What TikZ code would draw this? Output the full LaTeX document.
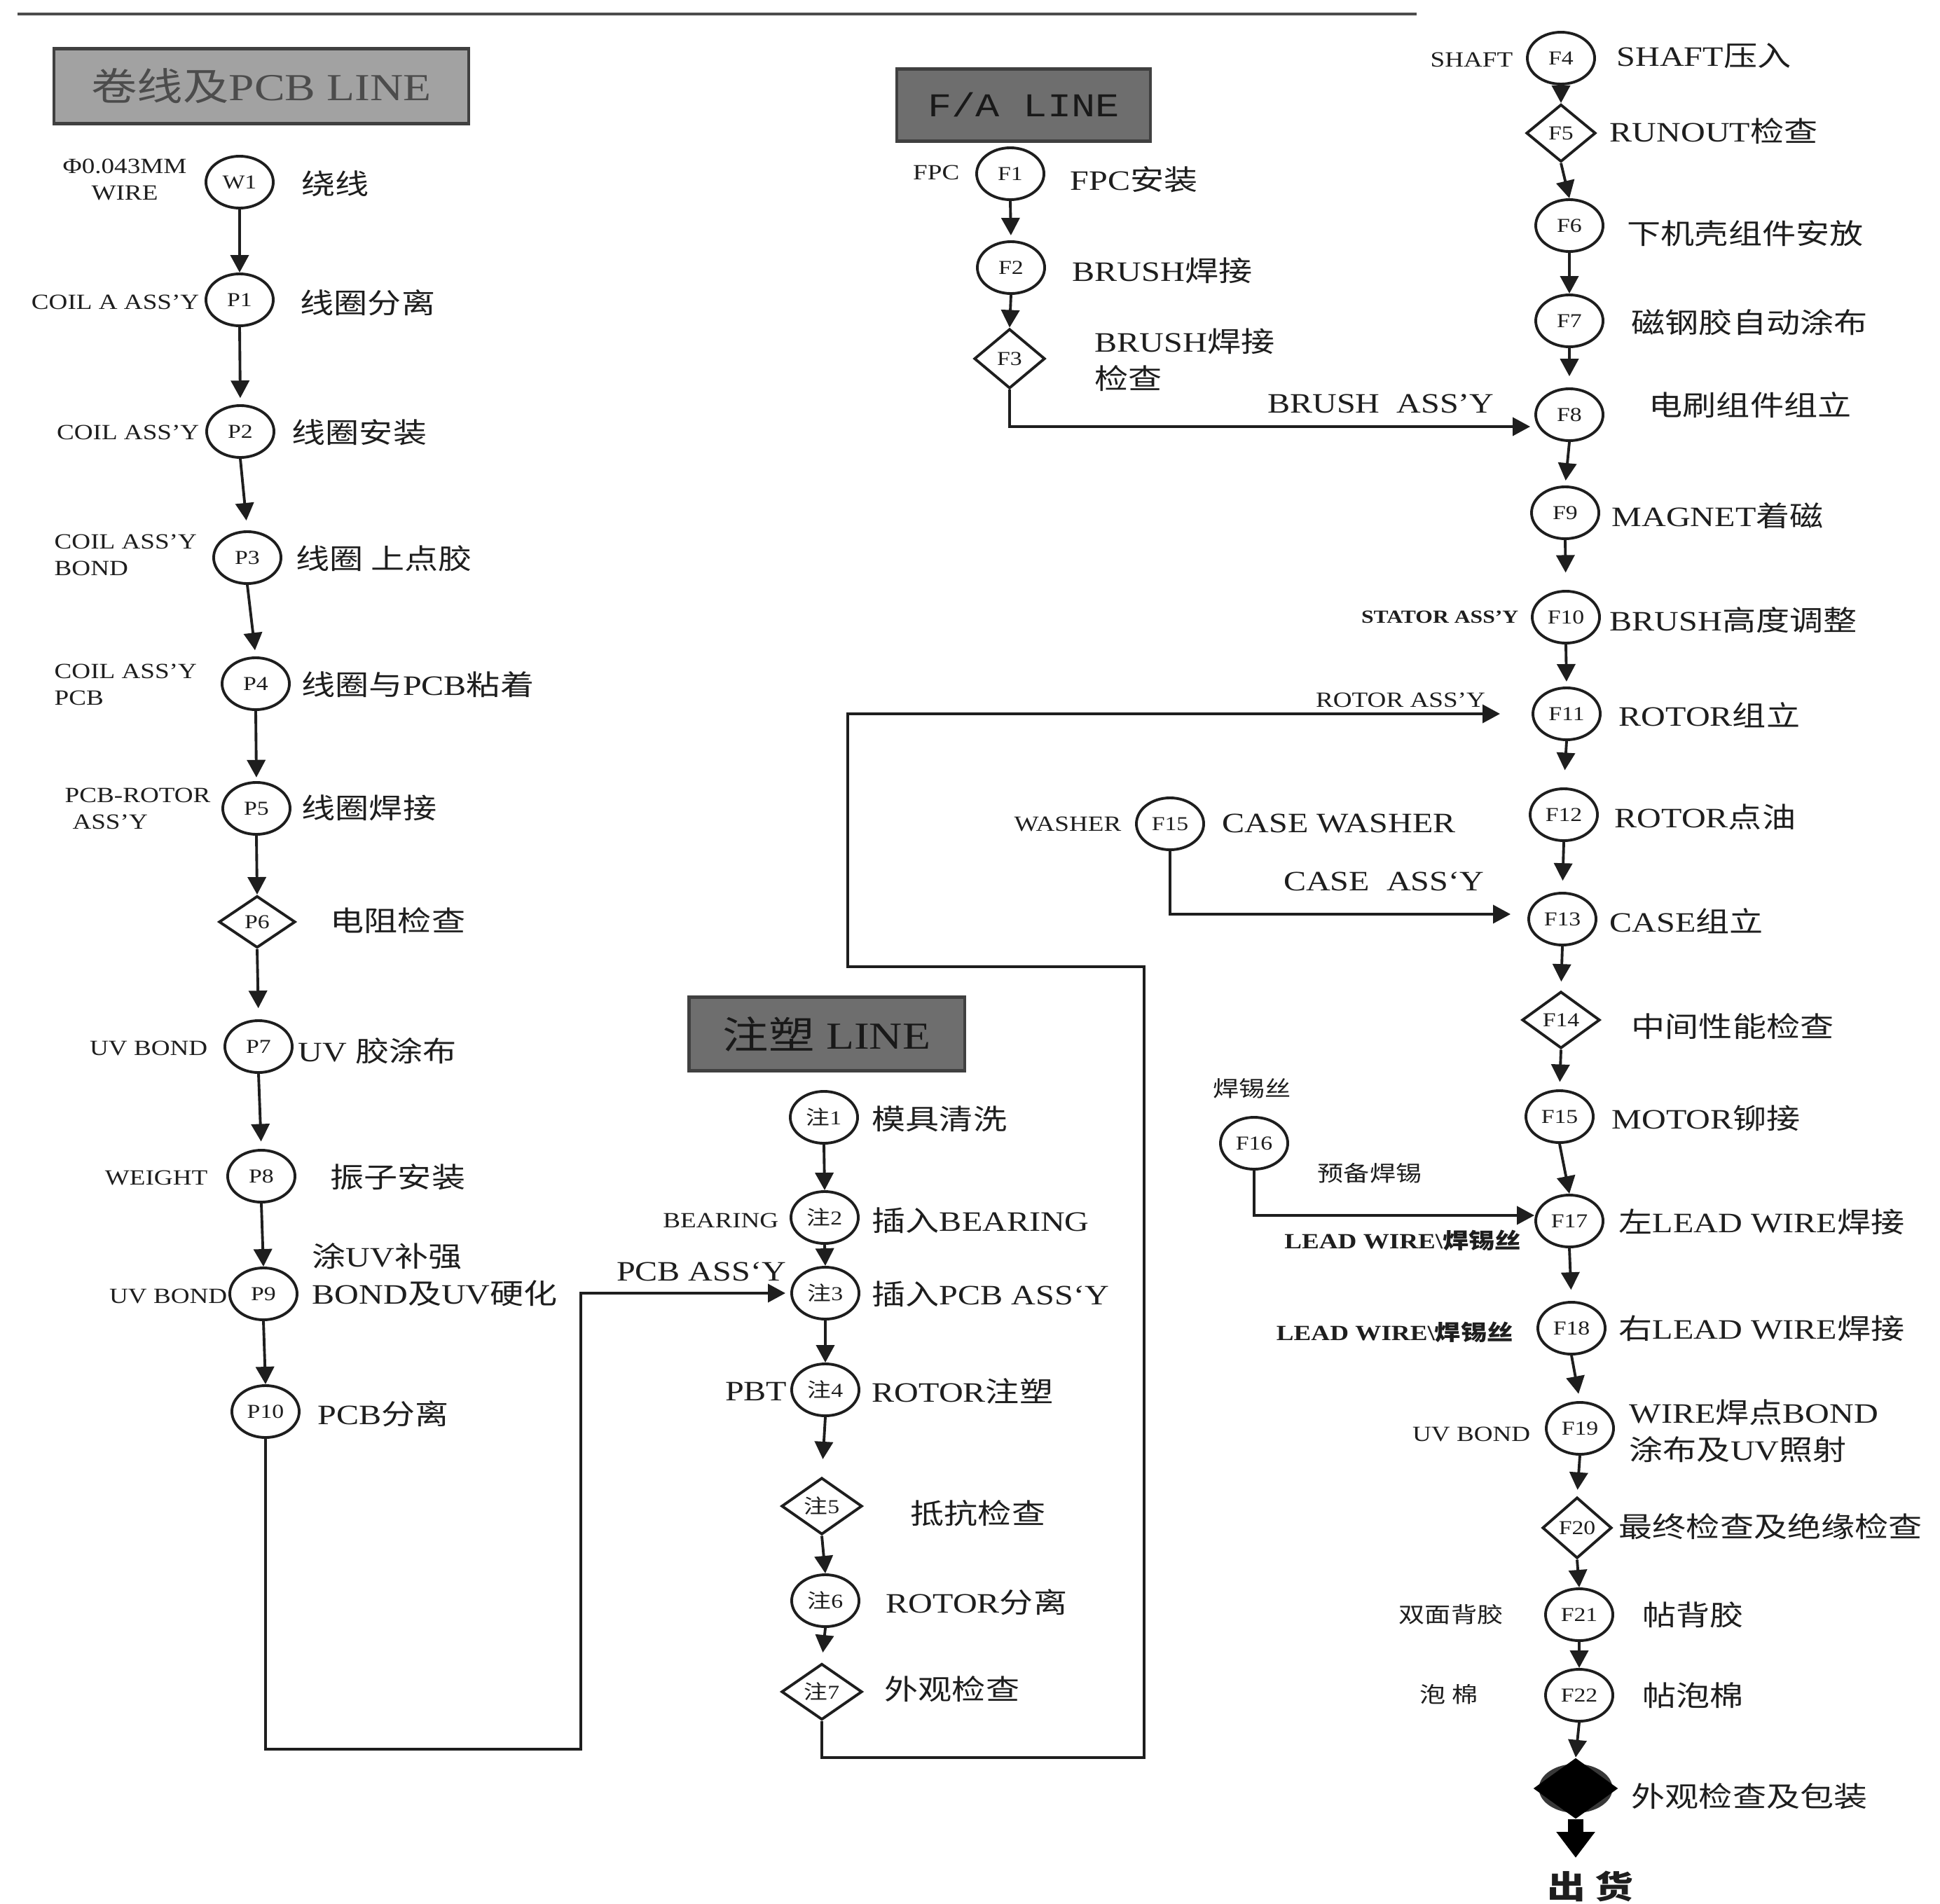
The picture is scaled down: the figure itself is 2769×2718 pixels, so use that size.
\documentclass[tikz,border=0pt]{standalone}
\usepackage{fontspec}
\setmainfont{Liberation Serif}[FakeStretch=1.2]
\newfontfamily\cjk{Noto Sans CJK SC}[FakeStretch=1.2]
\newfontfamily\monof{Liberation Mono}[FakeStretch=1.2]
\usetikzlibrary{shapes.geometric,arrows.meta,calc}
\newcommand\zh[1]{{\cjk #1}}
\newcommand\fmain{\fontsize{11.4}{15}\selectfont}
\newcommand\fsmall{\fontsize{8.8}{10.8}\selectfont}
\newcommand\ftiny{\fontsize{7.5}{9}\selectfont\bfseries}
\newcommand\fid{\fontsize{8}{9}\selectfont}
\newcommand\fhead{\fontsize{15.5}{18}\selectfont}
\definecolor{ink}{HTML}{1E1E1E}
\definecolor{hdrA}{HTML}{A2A2A2}
\definecolor{hdrB}{HTML}{6E6E6E}
\begin{document}
\begin{tikzpicture}[x=0.01cm,y=-0.01cm,
  proc/.style={ellipse,draw=ink,line width=1.1pt,minimum width=0.96cm,minimum height=0.74cm,inner sep=0pt,font=\fid,text=ink},
  chk/.style={diamond,draw=ink,line width=1.1pt,minimum width=1.06cm,minimum height=0.82cm,inner sep=0pt,label={[font=\fid,text=ink,inner sep=0pt]center:#1}},
  flow/.style={draw=ink,line width=1.1pt,-{Triangle[width=0.26cm,length=0.25cm]}},
  lab/.style={font=\fmain,text=ink,inner sep=0pt},
  sub/.style={font=\fsmall,text=ink,inner sep=0pt},
  tin/.style={font=\ftiny,text=ink,inner sep=0pt},
  hdr/.style={draw=black!75,line width=1.2pt,inner sep=0pt,font=\fhead}
]
\fill[white] (0,0) rectangle (2769,2718);
\path[use as bounding box] (0,0) rectangle (2769,2718);
\draw[black!70,line width=1pt] (25,20) -- (2022,20);

% headers
\node[hdr,fill=hdrA,minimum width=5.92cm,minimum height=1.07cm,text=black!70] (H1) at (373,123) {\zh{卷线及}PCB LINE};
\node[hdr,fill=hdrB,minimum width=3.62cm,minimum height=1.03cm,text=black!90,font={\monof\fontsize{13.5}{16}\selectfont}] (H2) at (1461,150) {F/A LINE};
\node[hdr,fill=hdrB,minimum width=3.93cm,minimum height=1.05cm,text=black!90] (H3) at (1180,1476) {\zh{注塑} LINE};

% ---------- left column ----------
\node[proc] (W1) at (342,260) {W1};
\node[proc] (P1) at (342,428) {P1};
\node[proc] (P2) at (343,616) {P2};
\node[proc] (P3) at (353,796) {P3};
\node[proc] (P4) at (365,976) {P4};
\node[proc] (P5) at (366,1154) {P5};
\node[chk=P6,minimum width=1.09cm,minimum height=0.74cm] (P6) at (367,1316) {};
\node[proc] (P7) at (369,1494) {P7};
\node[proc] (P8) at (373,1679) {P8};
\node[proc] (P9) at (376,1847) {P9};
\node[proc] (P10) at (379,2015) {P10};

\node[sub,align=center] (tW1) at (178,256) {Φ0.043MM\\WIRE};
\node[lab,anchor=west] (dW1) at (430,262) {\zh{绕线}};
\node[sub,anchor=east] (tP1) at (285,431) {COIL A ASS’Y};
\node[lab,anchor=west] (dP1) at (428,432) {\zh{线圈分离}};
\node[sub,anchor=east] (tP2) at (285,617) {COIL ASS’Y};
\node[lab,anchor=west] (dP2) at (416,617) {\zh{线圈安装}};
\node[sub,anchor=west,align=left] (tP3) at (77,792) {COIL ASS’Y\\BOND};
\node[lab,anchor=west] (dP3) at (422,797) {\zh{线圈 上点胶}};
\node[sub,anchor=west,align=left] (tP4) at (77,977) {COIL ASS’Y\\PCB};
\node[lab,anchor=west] (dP4) at (430,977) {\zh{线圈与}PCB\zh{粘着}};
\node[sub,anchor=west,align=left] (tP5) at (92,1154) {PCB-ROTOR\\\hspace*{0.35em}ASS’Y};
\node[lab,anchor=west] (dP5) at (430,1153) {\zh{线圈焊接}};
\node[lab,anchor=west] (dP6) at (471,1314) {\zh{电阻检查}};
\node[sub,anchor=east] (tP7) at (297,1496) {UV BOND};
\node[lab,anchor=west] (dP7) at (425,1500) {UV \zh{胶涂布}};
\node[sub,anchor=east] (tP8) at (297,1681) {WEIGHT};
\node[lab,anchor=west] (dP8) at (471,1680) {\zh{振子安装}};
\node[sub,anchor=east] (tP9) at (325,1850) {UV BOND};
\node[lab,anchor=west,align=left] (dP9) at (445,1820) {\zh{涂}UV\zh{补强}\\BOND\zh{及}UV\zh{硬化}};
\node[lab,anchor=west] (dP10) at (453,2018) {PCB\zh{分离}};

\draw[flow] (W1.south) -- (P1.north);
\draw[flow,shorten >=2.5pt] (P1.south) -- (P2.north);
\draw[flow,shorten >=4pt] (P2.south) -- (P3.north);
\draw[flow,shorten >=2.5pt] (P3.south) -- (P4.north);
\draw[flow,shorten >=1.5pt] (P4.south) -- (P5.north);
\draw[flow] (P5.south) -- (P6.north);
\draw[flow,shorten >=4.5pt] (P6.south) -- (P7.north);
\draw[flow,shorten >=3pt] (P7.south) -- (P8.north);
\draw[flow] (P8.south) -- (P9.north);
\draw[flow] (P9.south) -- (P10.north);

% ---------- F/A line top ----------
\node[proc] (F1) at (1442,248) {F1};
\node[proc] (F2) at (1443,382) {F2};
\node[chk=F3,minimum width=1.01cm,minimum height=0.85cm] (F3) at (1441,512) {};
\node[sub,anchor=east] (tF1) at (1370,246) {FPC};
\node[lab,anchor=west] (dF1) at (1527,256) {FPC\zh{安装}};
\node[lab,anchor=west] (dF2) at (1530,386) {BRUSH\zh{焊接}};
\node[lab,anchor=west,align=left] (dF3) at (1562,514) {BRUSH\zh{焊接}\\\zh{检查}};
\node[lab] (tBA) at (1971,576) {BRUSH\ \ ASS’Y};
\draw[flow,shorten >=2pt] (F1.south) -- (F2.north);
\draw[flow] (F2.south) -- (F3.north);

% ---------- F column ----------
\node[proc] (F4) at (2228,83) {F4};
\node[chk=F5,minimum width=0.99cm,minimum height=0.82cm] (F5) at (2228,190) {};
\node[proc] (F6) at (2240,322) {F6};
\node[proc] (F7) at (2240,458) {F7};
\node[proc] (F8) at (2240,592) {F8};
\node[proc] (F9) at (2234,732) {F9};
\node[proc] (F10) at (2235,881) {F10};
\node[proc] (F11) at (2236,1019) {F11};
\node[proc] (F12) at (2232,1163) {F12};
\node[proc] (F13) at (2230,1312) {F13};
\node[chk=F14,minimum width=1.11cm,minimum height=0.81cm] (F14) at (2228,1456) {};
\node[proc] (F15) at (2226,1594) {F15};
\node[proc] (F17) at (2240,1743) {F17};
\node[proc] (F18) at (2243,1896) {F18};
\node[proc] (F19) at (2255,2039) {F19};
\node[chk=F20,minimum width=0.99cm,minimum height=0.87cm] (F20) at (2251,2181) {};
\node[proc] (F21) at (2254,2305) {F21};
\node[proc] (F22) at (2254,2420) {F22};
\node[ellipse,fill=black!78,minimum width=1.05cm,minimum height=0.7cm,inner sep=0pt] (FF) at (2249,2553) {};
\node[diamond,fill=black,minimum width=1.21cm,minimum height=0.87cm,inner sep=0pt] (FFd) at (FF.center) {};
\coordinate (ship) at (2249,2652);

\node[proc] (W15) at (1670,1176) {F15};
\node[proc] (F16) at (1790,1632) {F16};

\node[sub,anchor=east] (tF4) at (2160,85) {SHAFT};
\node[lab,anchor=west] (dF4) at (2307,80) {SHAFT\zh{压入}};
\node[lab,anchor=west] (dF5) at (2297,187) {RUNOUT\zh{检查}};
\node[lab,anchor=west] (dF6) at (2322,333) {\zh{下机壳组件安放}};
\node[lab,anchor=west] (dF7) at (2328,460) {\zh{磁钢胶自动涂布}};
\node[lab,anchor=west] (dF8) at (2353,578) {\zh{电刷组件组立}};
\node[lab,anchor=west] (dF9) at (2300,736) {MAGNET\zh{着磁}};
\node[tin,anchor=east] (tF10) at (2168,881) {STATOR ASS’Y};
\node[lab,anchor=west] (dF10) at (2297,885) {BRUSH\zh{高度调整}};
\node[sub] (tRA) at (1999,999) {ROTOR ASS’Y};
\node[lab,anchor=west] (dF11) at (2310,1021) {ROTOR\zh{组立}};
\node[lab,anchor=west] (dF12) at (2304,1166) {ROTOR\zh{点油}};
\node[lab,anchor=west] (dF13) at (2297,1315) {CASE\zh{组立}};
\node[sub,anchor=east] (tW15) at (1601,1176) {WASHER};
\node[lab,anchor=west] (dW15) at (1744,1176) {CASE WASHER};
\node[lab] (tCA) at (1975,1258) {CASE\ \ ASS‘Y};
\node[lab,anchor=west] (dF14) at (2328,1465) {\zh{中间性能检查}};
\node[lab,anchor=west] (dF15) at (2300,1596) {MOTOR\zh{铆接}};
\node[sub] (tF16) at (1787,1554) {\zh{焊锡丝}};
\node[sub] (dF16) at (1955,1675) {\zh{预备焊锡}};
\node[sub,font=\fsmall\bfseries] (tLW) at (2002,1771) {LEAD WIRE\textbackslash\zh{焊锡丝}};
\node[lab,anchor=west] (dF17) at (2310,1744) {\zh{左}LEAD WIRE\zh{焊接}};
\node[sub,font=\fsmall\bfseries,anchor=east] (tF18) at (2160,1902) {LEAD WIRE\textbackslash\zh{焊锡丝}};
\node[lab,anchor=west] (dF18) at (2310,1896) {\zh{右}LEAD WIRE\zh{焊接}};
\node[sub,anchor=east] (tF19) at (2185,2047) {UV BOND};
\node[lab,anchor=west,align=left] (dF19) at (2325,2043) {WIRE\zh{焊点}BOND\\\zh{涂布及}UV\zh{照射}};
\node[lab,anchor=west] (dF20) at (2310,2179) {\zh{最终检查及绝缘检查}};
\node[sub,anchor=east] (tF21) at (2146,2305) {\zh{双面背胶}};
\node[lab,anchor=west] (dF21) at (2344,2305) {\zh{帖背胶}};
\node[sub] (tF22) at (2068,2419) {\zh{泡 棉}};
\node[lab,anchor=west] (dF22) at (2344,2420) {\zh{帖泡棉}};
\node[lab,anchor=west] (dFF) at (2328,2564) {\zh{外观检查及包装}};
\node[font={\fontsize{13}{15}\selectfont\bfseries},text=ink,inner sep=0pt] (out) at (2270,2693) {\zh{出 货}};

\draw[flow] (F4.south) -- (F5.north);
\draw[flow] (F5.south) -- (F6.north);
\draw[flow] (F6.south) -- (F7.north);
\draw[flow,shorten >=4.5pt] (F7.south) -- (F8.north);
\draw[flow,shorten >=2pt] (F8.south) -- (F9.north);
\draw[flow,shorten >=7pt] (F9.south) -- (F10.north);
\draw[flow,shorten >=2pt] (F10.south) -- (F11.north);
\draw[flow,shorten >=7pt] (F11.south) -- (F12.north);
\draw[flow,shorten >=4.5pt] (F12.south) -- (F13.north);
\draw[flow,shorten >=3.5pt] (F13.south) -- (F14.north);
\draw[flow,shorten >=3pt] (F14.south) -- (F15.north);
\draw[flow] (F15.south) -- (F17.north);
\draw[flow,shorten >=4.5pt] (F17.south) -- (F18.north);
\draw[flow,shorten >=3pt] (F18.south) -- (F19.north);
\draw[flow,shorten >=2.5pt] (F19.south) -- (F20.north);
\draw[flow] (F20.south) -- (F21.north);
\draw[flow] (F21.south) -- (F22.north);
\draw[flow] (F22.south) -- (FFd.north);
\draw[black,line width=6pt,-{Triangle[width=0.53cm,length=0.37cm]}] (FFd.south) -- (ship);

% ---------- injection line ----------
\node[proc] (Z1) at (1176,1595) {\zh{注}1};
\node[proc] (Z2) at (1177,1738) {\zh{注}2};
\node[proc] (Z3) at (1178,1846) {\zh{注}3};
\node[proc] (Z4) at (1178,1984) {\zh{注}4};
\node[chk={\zh{注}5},minimum width=1.15cm,minimum height=0.81cm] (Z5) at (1173,2150) {};
\node[proc] (Z6) at (1178,2285) {\zh{注}6};
\node[chk={\zh{注}7},minimum width=1.15cm,minimum height=0.80cm] (Z7) at (1173,2415) {};

\node[lab,anchor=west] (dZ1) at (1244,1597) {\zh{模具清洗}};
\node[sub,anchor=east] (tZ2) at (1112,1742) {BEARING};
\node[lab,anchor=west] (dZ2) at (1244,1742) {\zh{插入}BEARING};
\node[lab] (tPA) at (1001,1815) {PCB ASS‘Y};
\node[lab,anchor=west] (dZ3) at (1244,1847) {\zh{插入}PCB ASS‘Y};
\node[lab,anchor=east] (tZ4) at (1124,1986) {PBT};
\node[lab,anchor=west] (dZ4) at (1244,1986) {ROTOR\zh{注塑}};
\node[lab,anchor=west] (dZ5) at (1299,2160) {\zh{抵抗检查}};
\node[lab,anchor=west] (dZ6) at (1264,2287) {ROTOR\zh{分离}};
\node[lab,anchor=west] (dZ7) at (1262,2411) {\zh{外观检查}};

\draw[flow] (Z1.south) -- (Z2.north);
\draw[flow] (Z2.south) -- (Z3.north);
\draw[flow] (Z3.south) -- (Z4.north);
\draw[flow,shorten >=7pt] (Z4.south) -- (Z5.north);
\draw[flow] (Z5.south) -- (Z6.north);
\draw[flow,shorten >=4pt] (Z6.south) -- (Z7.north);

% ---------- cross connectors ----------
\draw[flow,shorten >=2pt] (P10.south) |- (829,2497) |- (Z3.west);
\draw[flow] (Z7.south) |- (1633,2509) |- (1210,1380) |- ([xshift=-0.45cm]F11.west);
\draw[flow] (F3.south) |- ($(F8.west)+(-6,17)$);
\draw[flow] (W15.south) |- ($(F13.west)+(-24,-7)$);
\draw[flow] (F16.south) |- ($(F17.west)+(0,-8)$);
\end{tikzpicture}
\end{document}
